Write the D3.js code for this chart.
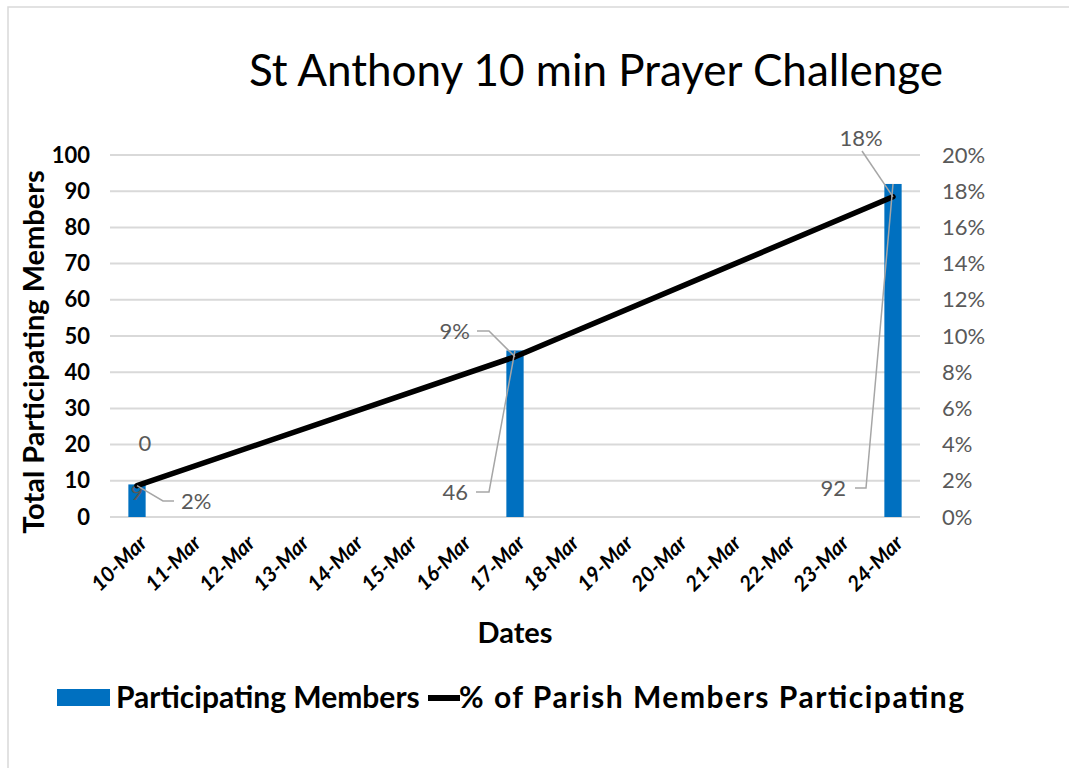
<!DOCTYPE html>
<html>
<head>
<meta charset="utf-8">
<script src="https://cdn.jsdelivr.net/npm/d3@7"></script>
<style>
  body { margin: 0; background: #fff; }
  svg { display: block; font-family: Lato, "Open Sans", sans-serif; }
</style>
</head>
<body>
<svg width="1069" height="768"></svg>
<script>
var svg = d3.select('svg');

// data
var dates = ['10-Mar', '11-Mar', '12-Mar', '13-Mar', '14-Mar', '15-Mar', '16-Mar', '17-Mar',
             '18-Mar', '19-Mar', '20-Mar', '21-Mar', '22-Mar', '23-Mar', '24-Mar'];
var memberDates = ['10-Mar', '17-Mar', '24-Mar'];
var members = [9, 46, 92];
var pctParish = [0.0173, 0.0885, 0.1769];
var pctLabels = ['2%', '9%', '18%'];
var leftTicks = [0, 10, 20, 30, 40, 50, 60, 70, 80, 90, 100];
var rightTicks = [0, 0.02, 0.04, 0.06, 0.08, 0.10, 0.12, 0.14, 0.16, 0.18, 0.20];

var plotL = 110, plotR = 920, plotT = 155, plotB = 517;

var x = d3.scaleBand().domain(dates).range([plotL, plotR]).paddingInner(0.68).paddingOuter(0.34);
var yL = d3.scaleLinear().domain([0, 100]).range([plotB, plotT]);
var yR = d3.scaleLinear().domain([0, 0.2]).range([plotB, plotT]);
var cx = function(d){ return x(d) + x.bandwidth() / 2; };

// chart frame
svg.append('rect')
    .attr('x', 8).attr('y', 7)
    .attr('width', 1100).attr('height', 800)
    .attr('fill', 'none')
    .attr('stroke', '#d9d9d9')
    .attr('stroke-width', 1.5);

// title
svg.append('text')
    .attr('x', 596).attr('y', 86)
    .attr('text-anchor', 'middle')
    .attr('font-size', 44)
    .attr('fill', '#000')
    .text('St Anthony 10 min Prayer Challenge');

// gridlines
svg.append('g')
    .selectAll('line')
    .data(leftTicks)
    .enter()
    .append('line')
    .attr('x1', plotL).attr('x2', plotR)
    .attr('y1', function(d){ return yL(d); })
    .attr('y2', function(d){ return yL(d); })
    .attr('stroke', '#d9d9d9')
    .attr('stroke-width', 2);

// left axis
var axL = svg.append('g')
    .attr('transform', 'translate(' + (plotL - 20) + ',0)')
    .call(d3.axisLeft(yL).tickValues(leftTicks).tickSize(0).tickPadding(0));
axL.select('.domain').remove();
axL.selectAll('text')
    .attr('font-family', 'Lato, sans-serif')
    .attr('font-size', 22)
    .attr('font-weight', 'bold')
    .attr('fill', '#000');

// right axis
var axR = svg.append('g')
    .attr('transform', 'translate(' + (plotR + 22) + ',0)')
    .call(d3.axisRight(yR).tickValues(rightTicks).tickFormat(d3.format('.0%')).tickSize(0).tickPadding(0));
axR.select('.domain').remove();
axR.selectAll('text')
    .attr('font-family', 'Lato, sans-serif')
    .attr('font-size', 22)
    .attr('fill', '#595959');

// x axis labels
var axX = svg.append('g')
    .attr('transform', 'translate(0,' + (plotB + 22) + ')')
    .call(d3.axisBottom(x).tickSize(0).tickPadding(0));
axX.select('.domain').remove();
axX.selectAll('text')
    .attr('font-family', 'Lato, sans-serif')
    .attr('font-size', 21)
    .attr('font-weight', 'bold')
    .attr('font-style', 'italic')
    .attr('fill', '#000')
    .attr('text-anchor', 'end')
    .attr('dy', '0.35em')
    .attr('transform', 'translate(6,0) rotate(-45)');

// axis titles
svg.append('text')
    .attr('transform', 'translate(44,352) rotate(-90)')
    .attr('text-anchor', 'middle')
    .attr('font-size', 29)
    .attr('font-weight', 'bold')
    .text('Total Participating Members');

svg.append('text')
    .attr('x', 515).attr('y', 643)
    .attr('text-anchor', 'middle')
    .attr('font-size', 29)
    .attr('font-weight', 'bold')
    .text('Dates');

// bars
svg.append('g')
    .selectAll('rect')
    .data(members)
    .enter()
    .append('rect')
    .attr('x', function(d, i){ return x(memberDates[i]); })
    .attr('width', x.bandwidth())
    .attr('y', function(d){ return yL(d); })
    .attr('height', function(d){ return plotB - yL(d); })
    .attr('fill', '#0070c0');

// bar label "9" inside the first bar
svg.append('text')
    .attr('x', cx(memberDates[0]))
    .attr('y', yL(members[0]) + 16)
    .attr('text-anchor', 'middle')
    .attr('font-size', 22)
    .attr('fill', '#595959')
    .text(members[0]);

// line
var line = d3.line()
    .x(function(d, i){ return cx(memberDates[i]); })
    .y(function(d){ return yR(d); });

svg.append('path')
    .datum(pctParish)
    .attr('d', line)
    .attr('fill', 'none')
    .attr('stroke', '#000')
    .attr('stroke-width', 5.5)
    .attr('stroke-linejoin', 'round')
    .attr('stroke-linecap', 'round');

// stray label
svg.append('text')
    .attr('x', 145).attr('y', 443)
    .attr('dy', '0.35em')
    .attr('text-anchor', 'middle')
    .attr('font-size', 22)
    .attr('fill', '#595959')
    .text('0');

// leader lines + labels
var leader = d3.line();
function callout(pts, lx, ly, anchor, txt){
    svg.append('path')
        .attr('d', leader(pts))
        .attr('fill', 'none')
        .attr('stroke', '#a6a6a6')
        .attr('stroke-width', 1.5);
    svg.append('text')
        .attr('x', lx).attr('y', ly)
        .attr('dy', '0.35em')
        .attr('text-anchor', anchor)
        .attr('font-size', 22)
        .attr('fill', '#595959')
        .text(txt);
}

var p0 = [cx(memberDates[0]), yR(pctParish[0])];
callout([p0, [163, 501], [174, 501]], 181, 501, 'start', pctLabels[0]);

var p1 = [cx(memberDates[1]), yR(pctParish[1])];
callout([[477, 331], [489, 331], p1], 470, 331, 'end', pctLabels[1]);

var b1 = [cx(memberDates[1]), yL(members[1])];
callout([[476, 492], [489, 492], b1], 468, 492, 'end', members[1]);

var p2 = [cx(memberDates[2]), yR(pctParish[2])];
callout([[862, 151], p2], 861, 138, 'middle', pctLabels[2]);

var b2 = [cx(memberDates[2]), yL(members[2])];
callout([[855, 488], [866, 488], b2], 846, 488, 'end', members[2]);

// legend
var lg = svg.append('g');
lg.append('rect')
    .attr('x', 57).attr('y', 689)
    .attr('width', 53).attr('height', 17)
    .attr('fill', '#0070c0');
lg.append('text')
    .attr('x', 116).attr('y', 708)
    .attr('font-size', 30)
    .attr('font-weight', 'bold')
    .text('Participating Members');
lg.append('line')
    .attr('x1', 428).attr('x2', 460)
    .attr('y1', 698).attr('y2', 698)
    .attr('stroke', '#000')
    .attr('stroke-width', 6);
lg.append('text')
    .attr('x', 459).attr('y', 708)
    .attr('font-size', 30)
    .attr('font-weight', 'bold')
    .attr('textLength', 505)
    .attr('lengthAdjust', 'spacing')
    .text('% of Parish Members Participating');
</script>
</body>
</html>
